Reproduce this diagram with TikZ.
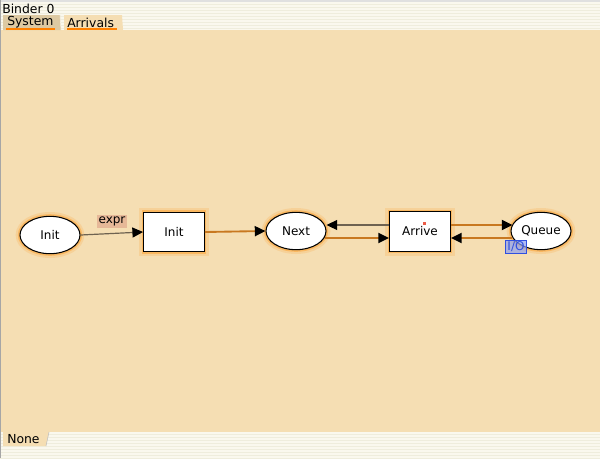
\documentclass[tikz,border=0pt]{standalone}
\usepackage{fontspec}
\setmainfont{DejaVu Sans}
\usetikzlibrary{arrows.meta,shapes.geometric,calc}
\definecolor{wheat}{HTML}{F5DEB3}
\definecolor{tabdark}{HTML}{DDC9A2}
\definecolor{stripeA}{HTML}{FAF8EE}
\definecolor{stripeB}{HTML}{EFEDDD}
\definecolor{glow}{HTML}{FF9A20}
\definecolor{arcorange}{HTML}{C87820}
\definecolor{arcgray}{HTML}{6E6250}
\definecolor{exprbg}{HTML}{E6B898}
\definecolor{iofill}{HTML}{8FA0F0}
\definecolor{ioline}{HTML}{3050E0}
\tikzset{
  txt/.style={font=\fontsize{9}{10}\selectfont, inner sep=0pt},
  glowouter/.style={draw=glow, line width=6.5pt, opacity=0.18},
  glowinner/.style={draw=glow, line width=3.2pt, opacity=0.45},
  place/.style={ellipse, draw=black, line width=0.8pt, fill=white,
    minimum width=45pt, minimum height=28pt, inner sep=0pt, txt,
    preaction={glowouter}, preaction={glowinner}},
  trans/.style={rectangle, draw=black, line width=0.9pt, fill=white,
    minimum width=45.5pt, minimum height=29.5pt, inner sep=0pt, txt,
    preaction={glowouter}, preaction={glowinner}},
  orangearc/.style={draw=arcorange, line width=1.4pt,
    -{Triangle[length=8pt,width=7.5pt,color=black]}},
  grayarc/.style={draw=arcgray, line width=0.9pt,
    -{Triangle[length=8pt,width=7.5pt,color=black]}},
  tabtext/.style={txt, font=\fontsize{9.3}{10}\selectfont},
}
\begin{document}
\begin{tikzpicture}[x=0.75pt,y=-0.75pt]
\useasboundingbox (0,0) rectangle (600,458);
% striped title band and bottom band
\fill[stripeA] (0,0) rectangle (600,458);
\foreach \y in {4,7,...,30} {\fill[stripeB] (0,\y) rectangle (600,\y+1.3);}
\foreach \y in {434,437,...,458} {\fill[stripeB] (0,\y) rectangle (600,\y+1.3);}
\fill[black!12] (0,0) rectangle (600,2);
% main canvas
\fill[wheat] (0,30) rectangle (600,432);
\fill[black!35] (0,0) rectangle (1,458);
% header and tabs
\node[tabtext, anchor=west] (title) at (2,8.5) {Binder 0};
\fill[tabdark] (3,15) -- (60,15) -- (61,30) -- (3,30) -- cycle;
\draw[white!70!tabdark] (60,15) -- (61,30);
\fill[wheat] (64,15) -- (122,15) -- (123,30) -- (64,30) -- cycle;
\node[tabtext, anchor=west] (tabsys) at (7,22.5) {System};
\node[tabtext, anchor=west] (tabarr) at (67,22.5) {Arrivals};
\draw[orange, line width=1.5pt] (6,28.5) -- (55,28.5);
\draw[orange, line width=1.5pt] (67,28.5) -- (117,28.5);
% bottom tab
\fill[wheat] (3,432) -- (49,432) -- (46,446) -- (3,446) -- cycle;
\draw[black!25] (49,432) -- (46,446);
\node[tabtext, anchor=west] (tabnone) at (7,439) {None};
% net
\node[place] (pinit) at (50,235) {Init};
\node[trans] (tinit) at (174,232) {Init};
\node[place] (pnext) at (296,231) {Next};
\node[trans] (tarr) at (420,231.5) {Arrive};
\node[place] (pqueue) at (541,231) {Queue};
\fill[red!60!brown!80] (422.5,221.5) rectangle (426,225);
% arcs
\draw[grayarc] (pinit.east) -- (tinit.west);
\draw[orangearc] (tinit.east) -- (pnext.west);
\draw[grayarc] (tarr.west |- 0,225) coordinate (a1) -- (a1 -| pnext.east);
\draw[orangearc] (pnext.east |- 0,238) ++(-1.5,0) coordinate (a2) -- (a2 -| tarr.west);
\draw[orangearc] (tarr.east |- 0,225) coordinate (a3) -- ($(a3 -| pqueue.west)+(2,0)$);
\draw[orangearc] (pqueue.west |- 0,238) ++(1.5,0) coordinate (a4) -- (a4 -| tarr.east);
% inscriptions
\node[txt, fill=exprbg, inner xsep=1pt, inner ysep=1.5pt] (expr) at (112,221.5) {expr};
\node[txt, fill=iofill, fill opacity=0.7, text opacity=1, draw=ioline, line width=0.6pt,
  text=ioline, inner xsep=1.5pt, inner ysep=1pt] (io) at (516,247) {I/O};
\end{tikzpicture}
\end{document}
